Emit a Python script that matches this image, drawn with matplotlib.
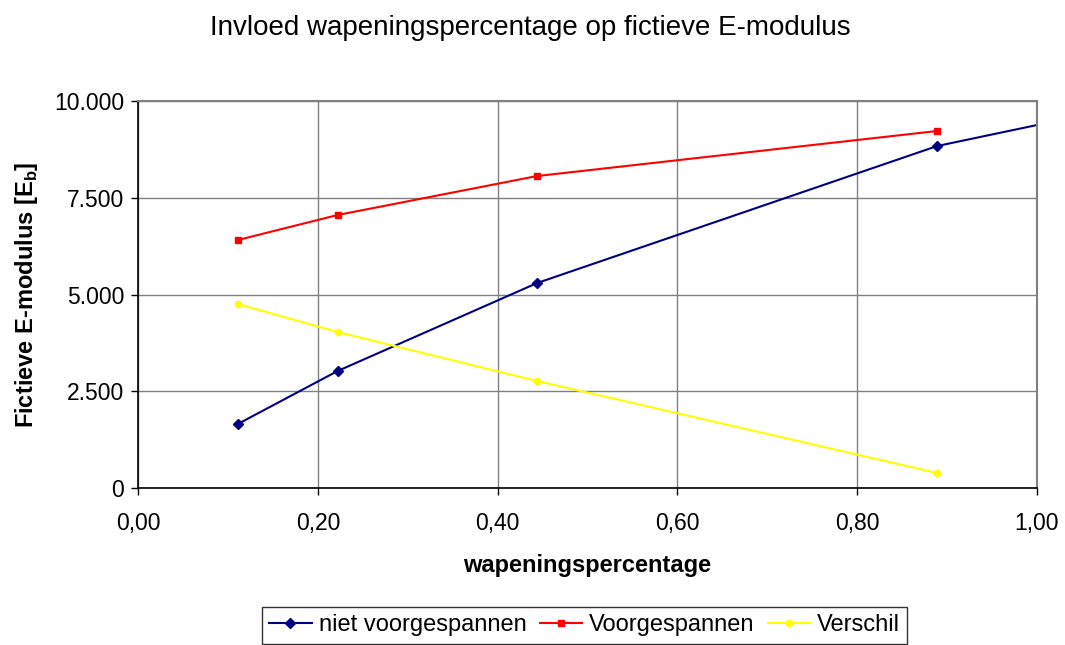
import matplotlib
matplotlib.use("Agg")
import matplotlib.pyplot as plt
from matplotlib.ticker import FuncFormatter, MultipleLocator

plt.rcParams["font.family"] = ["Liberation Sans", "DejaVu Sans"]

# data
pct = [0.111, 0.222, 0.444, 0.889, 1.778]
niet_voorgespannen = [1654, 3023, 5297, 8837, 13180]
voorgespannen = [6408, 7054, 8062, 9225]
verschil = [4755, 4031, 2765, 388]

fig = plt.figure(figsize=(10.65, 6.45), dpi=100)
ax = fig.add_axes([0.1296, 0.2434, 0.8441, 0.6000])

ax.plot(pct, niet_voorgespannen, color="#000080", marker="D", markersize=5,
        linewidth=1.5, label="niet voorgespannen")
ax.plot(pct[:4], voorgespannen, color="#ff0000", marker="s", markersize=5,
        linewidth=1.5, label="Voorgespannen")
ax.plot(pct[:4], verschil, color="#ffff00", marker="o", markersize=4.5,
        linewidth=1.5, label="Verschil")

ax.set_xlim(0, 1.0)
ax.set_ylim(0, 10000)
ax.xaxis.set_major_locator(MultipleLocator(0.2))
ax.yaxis.set_major_locator(MultipleLocator(2500))
ax.xaxis.set_major_formatter(FuncFormatter(lambda v, p: f"{v:.2f}".replace(".", ",")))
ax.yaxis.set_major_formatter(FuncFormatter(lambda v, p: f"{int(round(v)):,}".replace(",", ".")))
ax.grid(True, color="#808080", linewidth=1)
ax.set_axisbelow(True)

for s in ["top", "right"]:
    ax.spines[s].set_color("#808080")
    ax.spines[s].set_linewidth(1.5)
for s in ["left", "bottom"]:
    ax.spines[s].set_color("black")
    ax.spines[s].set_linewidth(1.2)
ax.tick_params(direction="out", length=5, width=1, labelsize=16.5)
ax.tick_params(axis="x", pad=12)
ax.tick_params(axis="y", pad=5)

ax.set_xlabel("wapeningspercentage", fontsize=17, fontweight="bold", labelpad=14)
ax.set_ylabel("Fictieve E-modulus [E$_\\mathregular{b}$]", fontsize=17,
              fontweight="bold", labelpad=10)
fig.text(0.498, 0.957, "Invloed wapeningspercentage op fictieve E-modulus",
         ha="center", va="center", fontsize=20)

leg = fig.legend(loc="lower center", bbox_to_anchor=(0.549, -0.016), ncol=3,
                 frameon=True, fancybox=False, fontsize=17, handlelength=1.8,
                 handletextpad=0.3, columnspacing=0.55, borderpad=0.3)
leg.get_frame().set_edgecolor("black")
leg.get_frame().set_linewidth(1)

fig.savefig("out.png", dpi=100)
